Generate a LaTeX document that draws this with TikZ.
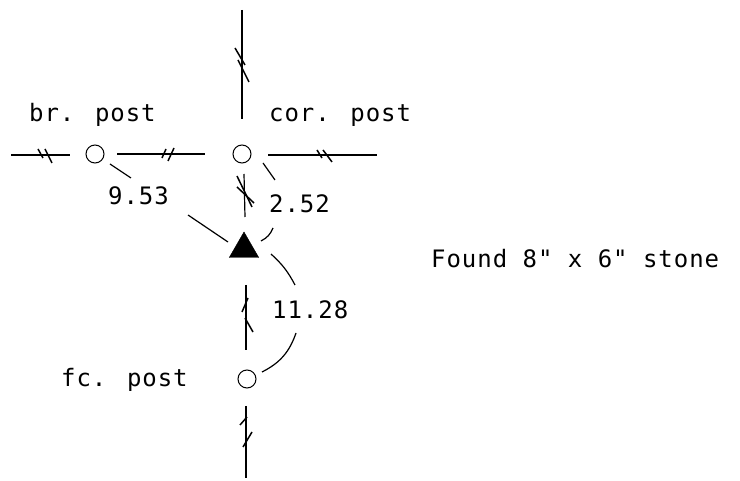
\documentclass[tikz,border=0pt]{standalone}
\usepackage{fontspec}
\newfontfamily\postfont{DejaVu Sans Mono}[LetterSpace=4]
\usetikzlibrary{shapes.geometric}
\tikzset{
  post/.style={draw,circle,line width=1pt,inner sep=0pt,minimum size=18pt},
  label/.style={font=\postfont\fontsize{24}{24}\selectfont,inner sep=0pt,anchor=base west},
  line/.style={line width=1.2pt},
  tick/.style={line width=1.5pt}
}
\begin{document}
\begin{tikzpicture}[x=1pt,y=-1pt]
  \useasboundingbox (0,0) rectangle (740,481);

  % posts and stone
  \node [post] (brpost) at (95,154) {};
  \node [post] (corpost) at (242,154) {};
  \node [post] (fcpost) at (247,379) {};
  \node [draw,fill,regular polygon,regular polygon sides=3,inner sep=0pt,minimum size=34pt] (stone) at (244,249) {};

  % free ends
  \coordinate (topend) at (242,10);
  \coordinate (topgap) at (242,119);
  \coordinate (leftend) at (11,155);
  \coordinate (leftgap) at (70,155);
  \coordinate (midA) at (117,154);
  \coordinate (midB) at (205,154);
  \coordinate (rightA) at (268,155);
  \coordinate (rightB) at (377,155);
  \coordinate (downA) at (244,174);
  \coordinate (downB) at (245,217);
  \coordinate (lowA) at (246,285);
  \coordinate (lowB) at (246,350);
  \coordinate (botA) at (246,406);
  \coordinate (botB) at (246,478);

  % lines
  \draw [line] (topend) -- (topgap);
  \draw [line] (leftend) -- (leftgap);
  \draw [line] (midA) -- (midB);
  \draw [line] (rightA) -- (rightB);
  \draw [line] (downA) -- (downB);
  \draw [line] (lowA) -- (lowB);
  \draw [line] (botA) -- (botB);

  % ticks
  \draw [tick] (38,149) -- (43,158);
  \draw [tick] (45,149) -- (52,163);
  \draw [tick] (162,158) -- (166,149);
  \draw [tick] (168,161) -- (174,148);
  \draw [tick] (317,150) -- (322,158);
  \draw [tick] (323,150) -- (332,162);
  \draw [tick] (235,48) -- (245,65);
  \draw [tick] (238,60) -- (249,82);
  \draw [tick] (237,176) -- (252,207);
  \draw [tick] (237,187) -- (254,203);
  \draw [tick] (242,312) -- (248,298);
  \draw [tick] (245,318) -- (253,332);
  \draw [tick] (240,425) -- (247,417);
  \draw [tick] (243,447) -- (252,432);

  % ties
  \coordinate (brA) at (110,164);
  \coordinate (brB) at (131,178);
  \coordinate (brC) at (188,215);
  \coordinate (brD) at (228,242);
  \draw [line] (brA) -- (brB);
  \draw [line] (brC) -- (brD);
  \coordinate (corA) at (263,163);
  \coordinate (corB) at (275,180);
  \coordinate (corC) at (273,228);
  \coordinate (corD) at (261,241);
  \draw [line] (corA) -- (corB);
  \draw [line] (corC) to [bend left=20] (corD);
  \coordinate (fcA) at (271,254);
  \coordinate (fcB) at (295,285);
  \coordinate (fcC) at (296,333);
  \coordinate (fcD) at (262,372);
  \draw [line] (fcA) to [bend left=10] (fcB);
  \draw [line] (fcC) to [bend left=22] (fcD);

  % labels
  \node [label] (brtext) at (29,122) {br. post};
  \node [label] (cortext) at (269,122) {cor. post};
  \node [label] (fctext) at (61,387) {fc. post};
  \node [label] (brdist) at (108,205) {9.53};
  \node [label] (cordist) at (269,213) {2.52};
  \node [label] (fcdist) at (272,319) {11.28};
  \node [label] (found) at (431,268) {Found 8" x 6" stone};
\end{tikzpicture}
\end{document}
